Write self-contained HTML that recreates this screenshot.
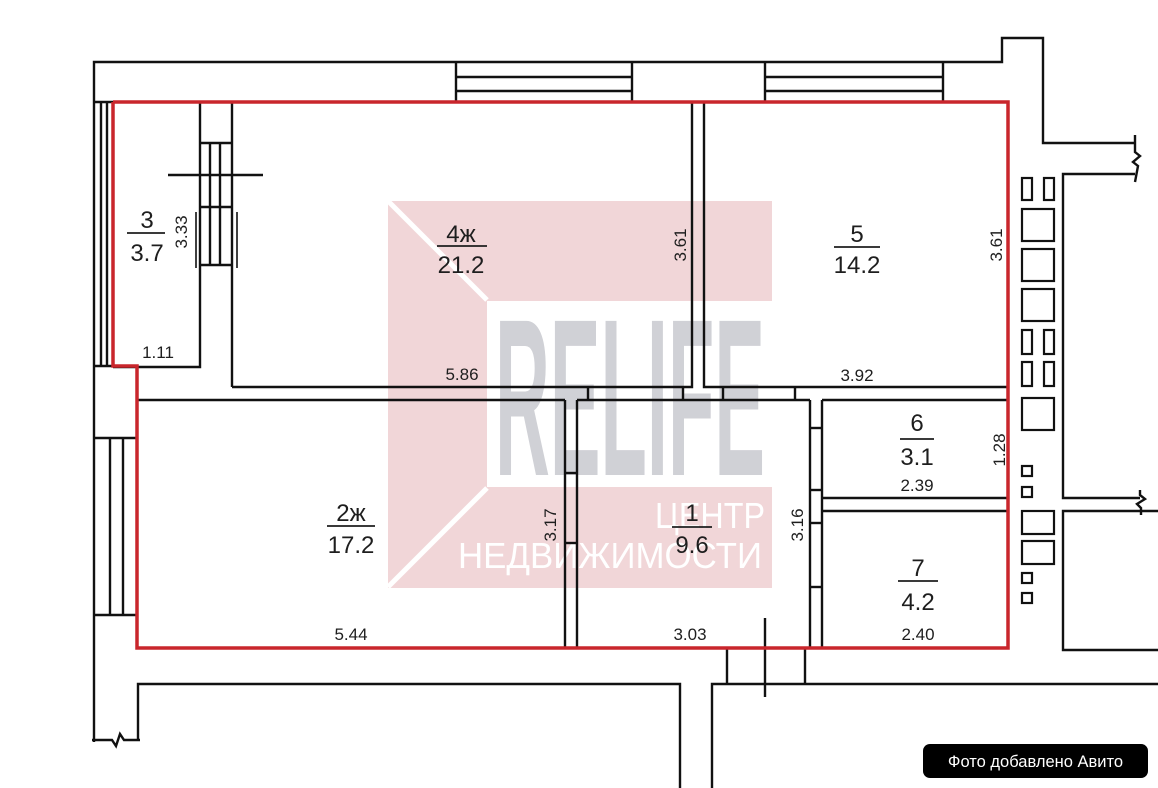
<!DOCTYPE html>
<html><head><meta charset="utf-8"><style>
html,body{margin:0;padding:0;background:#fff;}
svg{display:block;}
.t{font-family:"Liberation Sans Narrow","Liberation Sans","DejaVu Sans",sans-serif;fill:#1e1e1e;}
</style></head><body>
<svg width="1158" height="788" viewBox="0 0 1158 788" xmlns="http://www.w3.org/2000/svg">
<rect width="1158" height="788" fill="#fff"/>
<g>
<rect x="388" y="201" width="384" height="100" fill="#f1d6d8"/>
<rect x="388" y="487" width="384" height="101" fill="#f1d6d8"/>
<rect x="388" y="201" width="99" height="387" fill="#f1d6d8"/>
<line x1="388" y1="201" x2="487" y2="300" stroke="#fff" stroke-width="5"/>
<line x1="487" y1="488" x2="388" y2="587" stroke="#fff" stroke-width="5"/>
<text x="495" y="475" font-family="Liberation Sans Narrow,Liberation Sans,sans-serif" font-weight="bold" font-size="224" fill="#d0d1d6" textLength="270" lengthAdjust="spacingAndGlyphs">RELIFE</text>
<text x="655" y="528" font-family="Liberation Sans,sans-serif" font-size="36" fill="#fff" textLength="110" lengthAdjust="spacingAndGlyphs">ЦЕНТР</text>
<text x="458" y="568" font-family="Liberation Sans,sans-serif" font-size="36" fill="#fff" textLength="304" lengthAdjust="spacingAndGlyphs">НЕДВИЖИМОСТИ</text>
</g>
<g stroke="#111" stroke-width="2.4" fill="none">
<polyline points="94,742 94,62 1002,62 1002,38 1043,38 1043,143 1135,143"/>
<line x1="456" y1="62" x2="456" y2="102"/><line x1="632" y1="62" x2="632" y2="102"/>
<line x1="456" y1="77" x2="632" y2="77"/><line x1="456" y1="91" x2="632" y2="91"/>
<line x1="765" y1="62" x2="765" y2="102"/><line x1="943" y1="62" x2="943" y2="102"/>
<line x1="765" y1="77" x2="943" y2="77"/><line x1="765" y1="91" x2="943" y2="91"/>
<polyline points="1135,135 1135,152 1140,156 1133,162 1138,166 1135,182"/>
<polyline points="1135,174 1063,174 1063,498 1140,498"/>
<polyline points="1140,490 1140,495 1145,499 1137,504 1141,508 1141,515"/>
<polyline points="1158,511 1063,511 1063,650 1158,650"/>
<line x1="94" y1="102" x2="113" y2="102"/><line x1="94" y1="366" x2="113" y2="366"/>
<line x1="101" y1="102" x2="101" y2="366"/><line x1="107" y1="102" x2="107" y2="366"/>
<line x1="94" y1="438" x2="137" y2="438"/><line x1="94" y1="615" x2="137" y2="615"/>
<line x1="110" y1="438" x2="110" y2="615"/><line x1="123" y1="438" x2="123" y2="615"/>
<polyline points="92,740 112,740 116,746 120,734 124,740 140,740"/>
<polyline points="138,740 138,684 680,684 680,788"/>
<polyline points="1158,684 712,684 712,788"/>
<line x1="727" y1="648" x2="727" y2="684"/><line x1="805" y1="648" x2="805" y2="684"/>
<line x1="765" y1="618" x2="765" y2="697"/>
<polyline points="113,367 200,367 200,102"/>
<line x1="232" y1="102" x2="232" y2="387"/>
<line x1="200" y1="143" x2="232" y2="143"/><line x1="200" y1="207" x2="232" y2="207"/><line x1="200" y1="265" x2="232" y2="265"/>
<line x1="210" y1="143" x2="210" y2="265"/><line x1="220" y1="143" x2="220" y2="265"/>
<line x1="168" y1="175" x2="263" y2="175"/>
<line x1="196" y1="212" x2="196" y2="268" stroke-width="1.6"/><line x1="237" y1="212" x2="237" y2="268" stroke-width="1.6"/>
<polyline points="232,387 692,387 692,102"/>
<polyline points="1008,387 704,387 704,102"/>
<line x1="137" y1="400" x2="565" y2="400"/><line x1="577" y1="400" x2="810" y2="400"/>
<line x1="588" y1="387" x2="588" y2="400"/><line x1="683" y1="387" x2="683" y2="400"/><line x1="723" y1="387" x2="723" y2="400"/><line x1="795" y1="387" x2="795" y2="400"/>
<line x1="565" y1="400" x2="565" y2="648"/><line x1="577" y1="400" x2="577" y2="648"/>
<line x1="565" y1="473" x2="577" y2="473"/><line x1="565" y1="543" x2="577" y2="543"/>
<line x1="810" y1="400" x2="810" y2="648"/><line x1="822" y1="400" x2="822" y2="648"/>
<line x1="810" y1="428" x2="822" y2="428"/><line x1="810" y1="490" x2="822" y2="490"/>
<line x1="810" y1="523" x2="822" y2="523"/><line x1="810" y1="587" x2="822" y2="587"/>
<line x1="822" y1="400" x2="1008" y2="400"/><line x1="822" y1="498" x2="1008" y2="498"/><line x1="822" y1="511" x2="1008" y2="511"/>
<g stroke-width="2.2">
<rect x="1022" y="178" width="10" height="22"/><rect x="1044" y="178" width="10" height="22"/>
<rect x="1022" y="209" width="32" height="32"/><rect x="1022" y="249" width="32" height="32"/><rect x="1022" y="289" width="32" height="32"/>
<rect x="1022" y="330" width="10" height="24"/><rect x="1044" y="330" width="10" height="24"/>
<rect x="1022" y="362" width="10" height="24"/><rect x="1044" y="362" width="10" height="24"/>
<rect x="1022" y="398" width="32" height="32"/>
<rect x="1022" y="466" width="10" height="10"/><rect x="1022" y="487" width="10" height="10"/>
<rect x="1022" y="511" width="32" height="23"/><rect x="1022" y="541" width="32" height="23"/>
<rect x="1022" y="573" width="10" height="10"/><rect x="1022" y="593" width="10" height="10"/>
</g>
</g>
<polyline points="113,102 1008,102 1008,648 137,648 137,366 113,366 113,102" fill="none" stroke="#c9262c" stroke-width="3.5"/>
<g class="t" font-size="24" text-anchor="middle">
<text x="147" y="228">3</text><text x="147" y="261">3.7</text>
<text x="461" y="242">4ж</text><text x="461" y="273">21.2</text>
<text x="857" y="242">5</text><text x="857" y="273">14.2</text>
<text x="917" y="431">6</text><text x="917" y="465">3.1</text>
<text x="351" y="521">2ж</text><text x="351" y="553">17.2</text>
<text x="692" y="521">1</text><text x="692" y="553">9.6</text>
<text x="918" y="576">7</text><text x="918" y="610">4.2</text>
</g>
<g stroke="#1e1e1e" stroke-width="1.8">
<line x1="127" y1="233" x2="165" y2="233"/><line x1="437" y1="246" x2="487" y2="246"/>
<line x1="834" y1="247" x2="880" y2="247"/><line x1="900" y1="439" x2="934" y2="439"/>
<line x1="327" y1="526" x2="375" y2="526"/><line x1="672" y1="527" x2="712" y2="527"/>
<line x1="898" y1="581" x2="938" y2="581"/>
</g>
<g class="t" font-size="17" text-anchor="middle">
<text x="158" y="358">1.11</text><text x="462" y="380">5.86</text><text x="857" y="381">3.92</text>
<text x="917" y="491">2.39</text><text x="351" y="640">5.44</text><text x="690" y="640">3.03</text><text x="918" y="640">2.40</text>
<text transform="translate(187,232) rotate(-90)">3.33</text>
<text transform="translate(686,245) rotate(-90)">3.61</text>
<text transform="translate(1002,245) rotate(-90)">3.61</text>
<text transform="translate(1005,450) rotate(-90)">1.28</text>
<text transform="translate(556,525) rotate(-90)">3.17</text>
<text transform="translate(803,525) rotate(-90)">3.16</text>
</g>
<rect x="923" y="744" width="225" height="34" rx="7" fill="#000"/>
<text x="1035.5" y="767" text-anchor="middle" font-family="Liberation Sans,DejaVu Sans,sans-serif" font-size="16.5" fill="#fff">Фото добавлено Авито</text>
</svg>
</body></html>
